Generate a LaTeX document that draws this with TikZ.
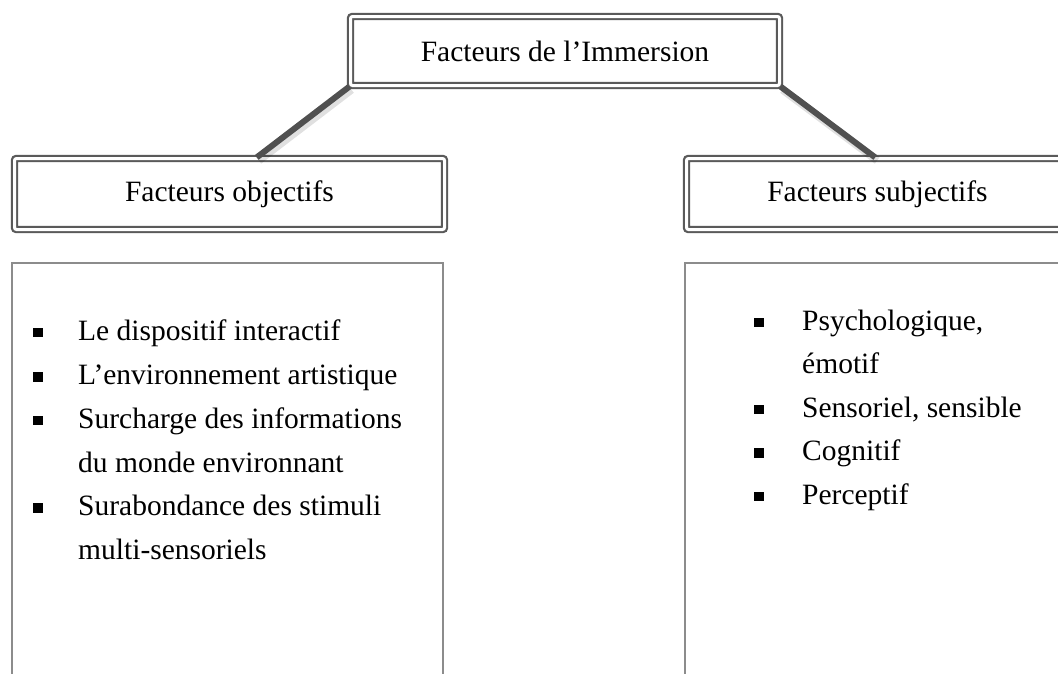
\documentclass[tikz,border=0pt]{standalone}
\usepackage{fontspec}
\setmainfont{Liberation Serif}
\usetikzlibrary{calc}
\definecolor{frame}{HTML}{5A5A5A}
\definecolor{thin}{HTML}{8C8C8C}
\definecolor{conncol}{HTML}{505050}
\tikzset{
  dbox/.style={draw=frame, line width=2.2pt, double=white, double distance=3pt,
    rounded corners=2pt, inner sep=0pt, font=\fontsize{29.5}{35}\selectfont},
  cbox/.style={draw=thin, line width=1.5pt, inner sep=0pt},
  conn/.style={draw=conncol, line width=6pt},
  connshadow/.style={draw=black, opacity=0.12, line width=8pt},
  item/.style={anchor=base west, inner sep=0pt, font=\fontsize{29.5}{35}\selectfont},
  bul/.style={fill=black, minimum size=9.5pt, inner sep=0pt}
}
\begin{document}
\begin{tikzpicture}[x=1pt,y=-1pt]
\useasboundingbox (0,0) rectangle (1058,673);
\clip (0,0) rectangle (1058,673);
% title boxes
\node[dbox, minimum width=429pt, minimum height=69pt] (top) at (565,51) {Facteurs de l’Immersion};
\node[dbox, minimum width=430pt, minimum height=71pt] (left) at (229.5,194) {Facteurs objectifs};
\node[dbox, minimum width=382pt, minimum height=71pt] (right) at (877.5,194) {Facteurs subjectifs};
% content boxes (open at the bottom, beyond the page)
\node[cbox, minimum width=431pt, minimum height=460pt] (lc) at (227.5,493) {};
\node[cbox, minimum width=420pt, minimum height=460pt] (rc) at (895,493) {};
% connectors
\coordinate (la) at ($(left.north west)!0.563!(left.north east)$);
\coordinate (ra) at ($(right.north west)!0.494!(right.north east)$);
\draw[connshadow] ($(top.south west)+(2,3)$) -- ($(la)+(2,3)$);
\draw[connshadow] ($(top.south east)+(2,3)$) -- ($(ra)+(2,3)$);
\draw[conn] (top.south west) -- (la);
\draw[conn] (top.south east) -- (ra);
% left list
\node[item] (l1) at (78,340) {Le dispositif interactif};
\node[item] (l2) at (78,384.5) {L’environnement artistique};
\node[item] (l3) at (78,428) {Surcharge des informations};
\node[item] (l4) at (78,472) {du monde environnant};
\node[item] (l5) at (78,515.5) {Surabondance des stimuli};
\node[item] (l6) at (78,559) {multi-sensoriels};
\node[bul] (lb1) at (38,332.5) {};
\node[bul] (lb2) at (38,377) {};
\node[bul] (lb3) at (38,420.5) {};
\node[bul] (lb5) at (38,508) {};
% right list
\node[item] (r1) at (802,330) {Psychologique,};
\node[item] (r2) at (802,373.5) {émotif};
\node[item] (r3) at (802,417) {Sensoriel, sensible};
\node[item] (r4) at (802,460.5) {Cognitif};
\node[item] (r5) at (802,504) {Perceptif};
\node[bul] (rb1) at (759,322.5) {};
\node[bul] (rb3) at (759,409.5) {};
\node[bul] (rb4) at (759,453) {};
\node[bul] (rb5) at (759,496.5) {};
\end{tikzpicture}
\end{document}
